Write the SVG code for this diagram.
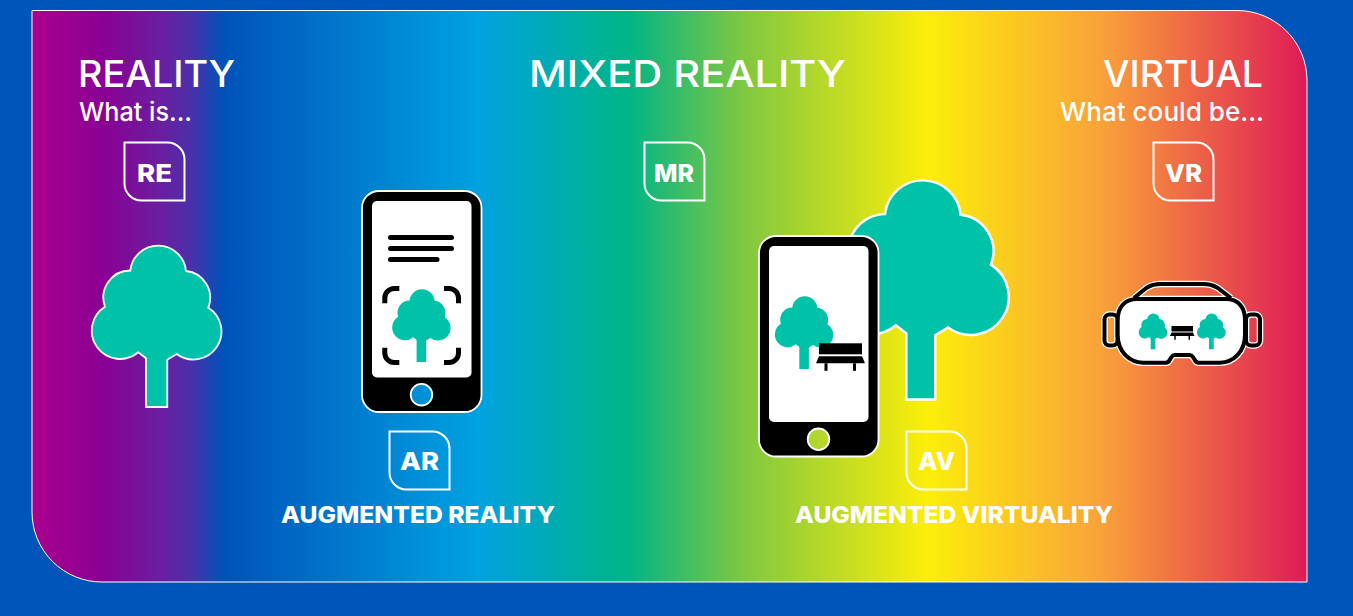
<svg xmlns="http://www.w3.org/2000/svg" width="1353" height="616" viewBox="0 0 1353 616">
<style>
.t{font-family:"Inter","Liberation Sans",sans-serif;fill:#fff}
.h{font-size:37px;font-weight:450}
.s{font-size:26px;font-weight:500}
.l{font-size:23px;font-weight:800}
.b{font-size:24px;font-weight:800}
.badge{fill:none;stroke:#fff;stroke-width:2}
.tree{fill:#00c2a8}
.halo{stroke:#fff;stroke-width:1.8;vector-effect:non-scaling-stroke}
.body{fill:#000;stroke:#fff;stroke-width:1.8}
.screen{fill:#fff}
.btn{fill:url(#rainbow);stroke:#fff;stroke-width:1.8}
.br{fill:none;stroke:#000;stroke-width:5}
</style>
<defs>
<linearGradient id="rainbow" gradientUnits="userSpaceOnUse" x1="32" y1="0" x2="1307" y2="0">
<stop offset="0" stop-color="#aa008e"/>
<stop offset="0.055" stop-color="#8b0094"/>
<stop offset="0.1" stop-color="#6a1ea0"/>
<stop offset="0.125" stop-color="#4a30aa"/>
<stop offset="0.15" stop-color="#0052b9"/>
<stop offset="0.35" stop-color="#00a2e1"/>
<stop offset="0.468" stop-color="#00b586"/>
<stop offset="0.56" stop-color="#82c840"/>
<stop offset="0.703" stop-color="#fcee09"/>
<stop offset="0.84" stop-color="#f9a13a"/>
<stop offset="1" stop-color="#df1a56"/>
</linearGradient>
<path id="treeShape" d="M38.300 25.500A28 28 0 0 1 94 26A27 27 0 0 1 116.300 62.700A28.050 28.050 0 1 1 84.700 109L75.300 114.700V162H54V113.300L46.300 107.300A28.300 28.300 0 1 1 13 61.700A27 27 0 0 1 38.300 25.500Z"/>
<path id="leaf" d="M0 0H43A17 17 0 0 1 60 17V58H17A17 17 0 0 1 0 41Z"/>
<g id="bench">
<rect x="3" y="0" width="43" height="11"/>
<path d="M3 13H46L49 20H0Z"/>
<rect x="8.500" y="20" width="3" height="7.500"/>
<rect x="37" y="20" width="3" height="7.500"/>
</g>
<path id="strap" d="M1134 298L1147 287.500Q1153 284 1160 284H1204Q1211 284 1217 287.500L1231 298"/>
</defs>
<rect id="background" width="1353" height="616" fill="#0055ba"/>
<path id="panel" d="M32 10.500H1237A70 70 0 0 1 1307 80.500V582H102A70 70 0 0 1 32 512Z" fill="url(#rainbow)" stroke="#fff" stroke-width="1"/>
<g id="connectors"></g>

<g id="titles">
<text class="t h" x="78" y="87" textLength="157" lengthAdjust="spacingAndGlyphs">REALITY</text>
<text class="t s" x="79" y="121" textLength="113" lengthAdjust="spacingAndGlyphs">What is...</text>
<text class="t h" x="529" y="87" textLength="317" lengthAdjust="spacingAndGlyphs">MIXED REALITY</text>
<text class="t h" x="1103" y="87" textLength="160" lengthAdjust="spacingAndGlyphs">VIRTUAL</text>
<text class="t s" x="1060" y="121" textLength="204" lengthAdjust="spacingAndGlyphs">What could be...</text>
</g>

<g id="badge-re"><use href="#leaf" x="124.500" y="142.500" class="badge"/><text class="t b" x="137" y="182" textLength="35" lengthAdjust="spacingAndGlyphs">RE</text></g>
<g id="badge-mr"><use href="#leaf" x="644.500" y="142.500" class="badge"/><text class="t b" x="654" y="182" textLength="40" lengthAdjust="spacingAndGlyphs">MR</text></g>
<g id="badge-vr"><use href="#leaf" x="1153.500" y="142.500" class="badge"/><text class="t b" x="1165" y="182" textLength="37" lengthAdjust="spacingAndGlyphs">VR</text></g>
<g id="badge-ar"><use href="#leaf" x="389.500" y="431.500" class="badge"/><text class="t b" x="400" y="470" textLength="39" lengthAdjust="spacingAndGlyphs">AR</text></g>
<g id="badge-av"><use href="#leaf" x="906.500" y="431.500" class="badge"/><text class="t b" x="918" y="470" textLength="37" lengthAdjust="spacingAndGlyphs">AV</text></g>

<g id="reality-tree"><use href="#treeShape" transform="translate(92 245)" class="tree halo"/></g>

<g id="ar-phone">
<rect class="body" x="362" y="191" width="119.500" height="221" rx="17"/>
<rect class="screen" x="372" y="201" width="99.500" height="176.500" rx="5"/>
<circle class="btn" cx="421.500" cy="394.700" r="10.800"/>
<g fill="#000">
<rect x="388" y="235" width="66" height="5" rx="2.500"/>
<rect x="388" y="246" width="66" height="5" rx="2.500"/>
<rect x="388" y="257" width="51.500" height="5" rx="2.500"/>
</g>
<path class="br" d="M384.800 303.300V298A9.500 9.500 0 0 1 394.300 288.500H399.300"/>
<path class="br" d="M444 288.500H449A9.500 9.500 0 0 1 458.500 298V303.300"/>
<path class="br" d="M384.800 347.700V353A9.500 9.500 0 0 0 394.300 362.500H399.300"/>
<path class="br" d="M444 362.500H449A9.500 9.500 0 0 0 458.500 353V347.700"/>
<use href="#treeShape" transform="translate(392.300 289) scale(.45)" class="tree"/>
</g>

<g id="av-tree"><use href="#treeShape" transform="translate(833 179.500) scale(1.358)" class="tree halo"/></g>
<g id="av-phone">
<rect class="body" x="759" y="236" width="119.500" height="220.500" rx="17"/>
<rect class="screen" x="769" y="246" width="99.500" height="176" rx="5"/>
<circle class="btn" cx="818.500" cy="439.300" r="10.800"/>
<use href="#treeShape" transform="translate(775 296) scale(.45)" class="tree"/>
<use href="#bench" transform="translate(816 343.300)"/>
</g>

<g id="vr-headset">
<g fill="none" stroke="#fff" stroke-width="6.500">
<use href="#strap"/>
<rect x="1104.500" y="314.500" width="13" height="31" rx="5"/>
<rect x="1246" y="314.500" width="14" height="31" rx="5"/>
<path d="M1137 299H1226C1238 299 1245 307 1245 320V335C1245 352 1233 362.700 1220 362.700H1198.500C1196.500 362.700 1195.500 361.500 1194.500 359.500L1193 357C1192 355.500 1191 355 1189.500 355H1175C1173.500 355 1172.500 355.500 1171.500 357L1170 359.500C1169 361.500 1168 362.700 1166 362.700H1143C1130 362.700 1117.700 352 1117.700 335V320C1117.700 307 1125 299 1137 299Z"/>
</g>
<g fill="none" stroke="#000" stroke-width="4">
<use href="#strap"/>
<rect x="1104.500" y="314.500" width="13" height="31" rx="5"/>
<rect x="1246" y="314.500" width="14" height="31" rx="5"/>
</g>
<path d="M1137 299H1226C1238 299 1245 307 1245 320V335C1245 352 1233 362.700 1220 362.700H1198.500C1196.500 362.700 1195.500 361.500 1194.500 359.500L1193 357C1192 355.500 1191 355 1189.500 355H1175C1173.500 355 1172.500 355.500 1171.500 357L1170 359.500C1169 361.500 1168 362.700 1166 362.700H1143C1130 362.700 1117.700 352 1117.700 335V320C1117.700 307 1125 299 1137 299Z" fill="#fff" stroke="#000" stroke-width="4"/>
<use href="#treeShape" transform="translate(1138.700 313.300) scale(.222)" class="tree"/>
<use href="#treeShape" transform="translate(1197 313.300) scale(.222)" class="tree"/>
<use href="#bench" transform="translate(1170 326) scale(.5)"/>
</g>

<g id="labels">
<text class="t l" x="281" y="523" textLength="274" lengthAdjust="spacingAndGlyphs">AUGMENTED REALITY</text>
<text class="t l" x="795" y="523" textLength="318" lengthAdjust="spacingAndGlyphs">AUGMENTED VIRTUALITY</text>
</g>
</svg>
